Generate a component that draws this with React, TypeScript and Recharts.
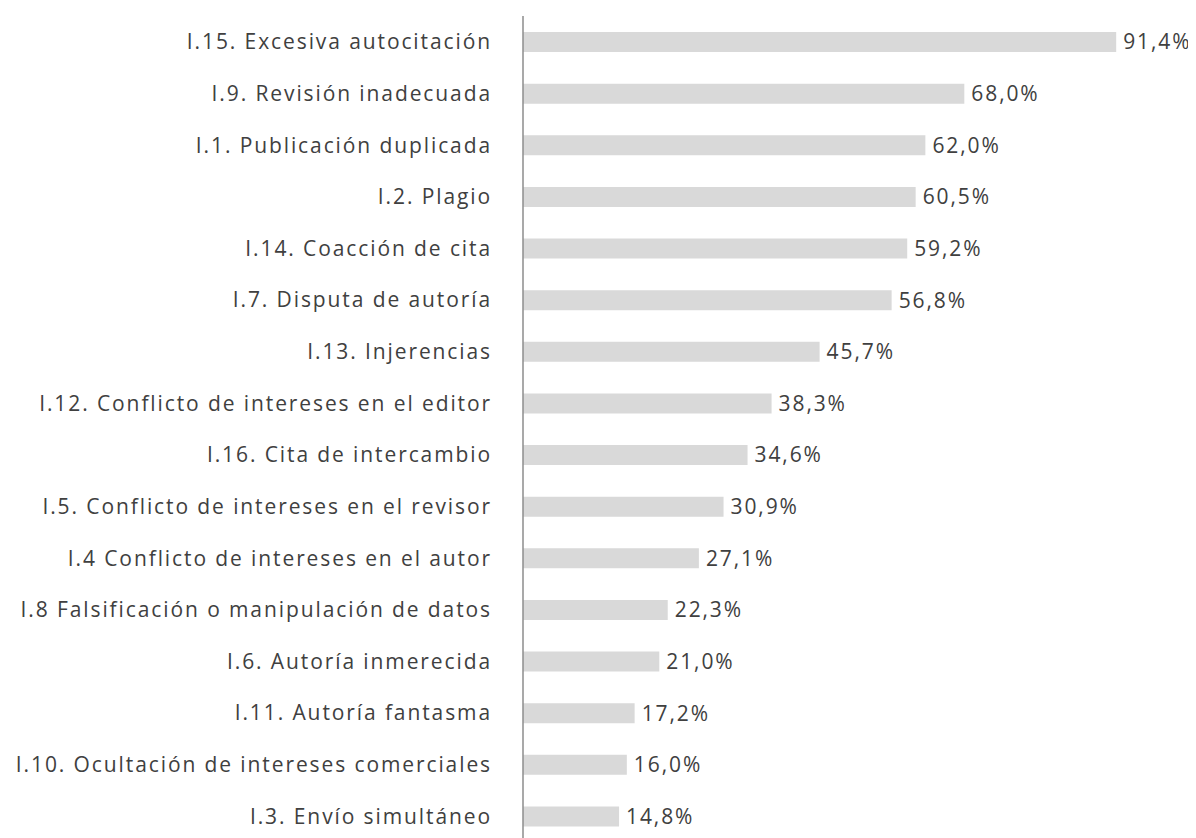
import { BarChart, Bar, XAxis, YAxis, LabelList } from 'recharts';

const categories = [
  'I.15. Excesiva autocitación',
  'I.9. Revisión inadecuada',
  'I.1. Publicación duplicada',
  'I.2. Plagio',
  'I.14. Coacción de cita',
  'I.7. Disputa de autoría',
  'I.13. Injerencias',
  'I.12. Conflicto de intereses en el editor',
  'I.16. Cita de intercambio',
  'I.5. Conflicto de intereses en el revisor',
  'I.4 Conflicto de intereses en el autor',
  'I.8 Falsificación o manipulación de datos',
  'I.6. Autoría inmerecida',
  'I.11. Autoría fantasma',
  'I.10. Ocultación de intereses comerciales',
  'I.3. Envío simultáneo',
];

const percentages = [91.4, 68.0, 62.0, 60.5, 59.2, 56.8, 45.7, 38.3, 34.6, 30.9, 27.1, 22.3, 21.0, 17.2, 16.0, 14.8];

const data = categories.map((name, i) => ({ name, value: percentages[i] }));

const fmt = (v: any) => `${Number(v).toFixed(1).replace('.', ',')}%`;

const textStyle = { fill: '#404040', fontSize: 21, fontFamily: 'Open Sans', letterSpacing: 1.9 };

export default function App() {
  return (
    <div style={{ margin: '-8px 0 0 -8px', width: 1196, height: 842, background: '#fff' }}>
      <BarChart
        width={1196}
        height={842}
        layout="vertical"
        data={data}
        margin={{ top: 16, right: 24, left: 0, bottom: 0 }}
        barSize={20}
      >
        <XAxis type="number" domain={[0, 100]} hide />
        <YAxis
          type="category"
          dataKey="name"
          width={523}
          axisLine={{ stroke: '#8c8c8c', strokeWidth: 1.5 }}
          tickLine={false}
          tickSize={0}
          tickMargin={31}
          interval={0}
          tick={textStyle}
        />
        <Bar dataKey="value" fill="#d9d9d9" isAnimationActive={false}>
          <LabelList
            dataKey="value"
            position="right"
            offset={7}
            formatter={fmt}
            style={textStyle}
          />
        </Bar>
      </BarChart>
    </div>
  );
}
